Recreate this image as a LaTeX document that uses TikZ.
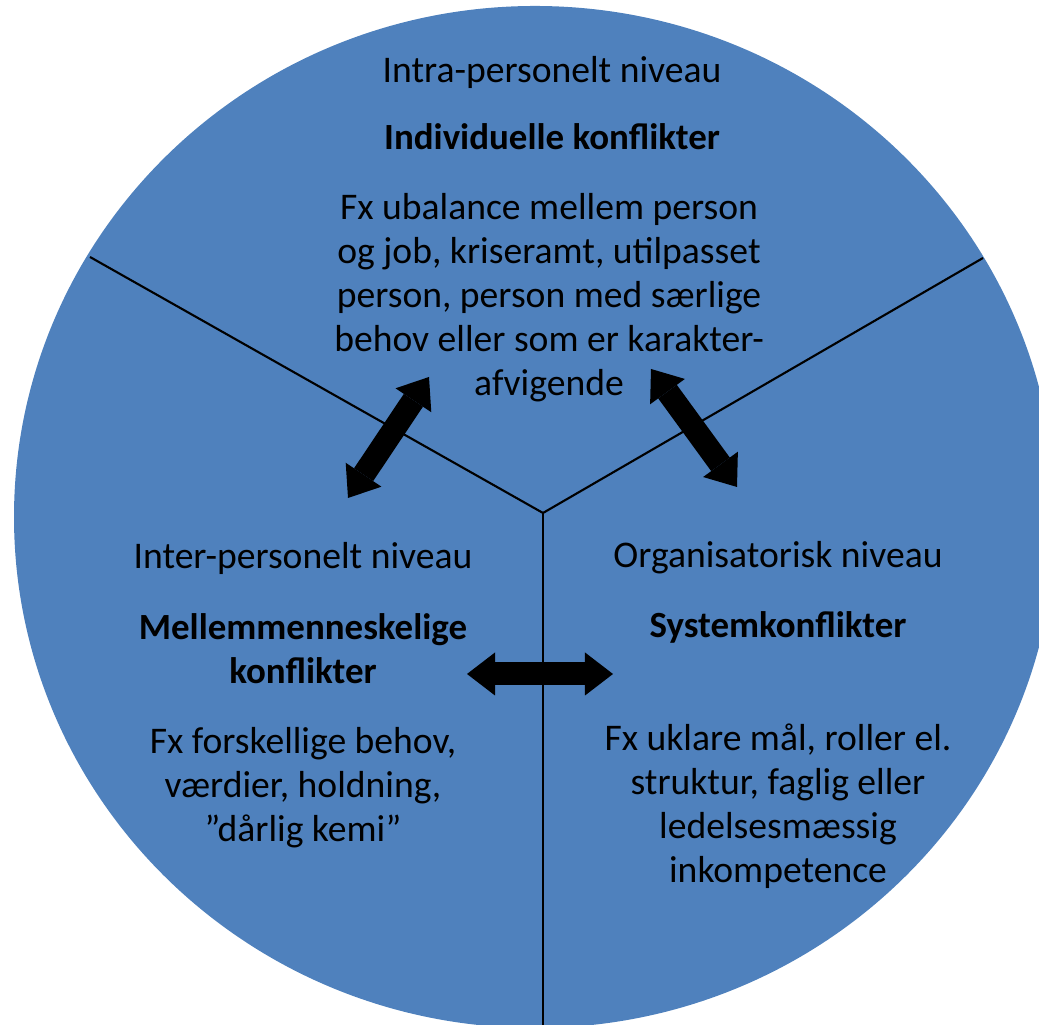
\documentclass[tikz,border=0pt]{standalone}
\usepackage{fontspec}
\setmainfont{Carlito}
\usetikzlibrary{arrows.meta}
\definecolor{pieblue}{RGB}{79,129,189}
\tikzset{
  txt/.style={align=center, inner sep=0pt, font=\fontsize{10.7}{12.5}\selectfont},
  hdr/.style={txt, font=\fontsize{10.5}{12.5}\selectfont\bfseries},
  twoway/.style={line width=0.23cm,
    {Triangle[width=0.43cm,length=0.28cm,line width=0pt]}-{Triangle[width=0.43cm,length=0.28cm,line width=0pt]}},
}

\begin{document}
\begin{tikzpicture}[x=0.01cm,y=0.01cm]
        \useasboundingbox (0,0) rectangle (1039,1025);
        \clip (0,0) rectangle (1039,1025);
        \fill[pieblue] (535,508) ellipse [x radius=521, y radius=511];

        % dividers
        \coordinate (mid) at (543,512);
        \coordinate (lt) at (90,768);
        \coordinate (rt) at (983,767);
        \coordinate (bot) at (543,-10);
        \draw[line width=0.6pt] (mid) -- (lt);
        \draw[line width=0.6pt] (mid) -- (rt);
        \draw[line width=0.6pt] (mid) -- (bot);

        % labels
        \node[txt] (intra) at (552,953) {Intra-personelt niveau};
        \node[hdr] (indiv) at (552,888) {Individuelle konflikter};
        \node[txt] (indivtxt) at (549,727) {Fx ubalance mellem person\\og job, kriseramt, utilpasset\\person, person med særlige\\behov eller som er karakter-\\afvigende};
        \node[txt] (inter) at (303,467) {Inter-personelt niveau};
        \node[hdr] (mellem) at (303,376) {Mellemmenneskelige\\konflikter};
        \node[txt] (mellemtxt) at (303,237) {Fx forskellige behov,\\værdier, holdning,\\”dårlig kemi”};
        \node[txt] (org) at (778,467) {Organisatorisk niveau};
        \node[hdr] (system) at (778,398) {Systemkonflikter};
        \node[txt] (systemtxt) at (778,219) {Fx uklare mål, roller el.\\struktur, faglig eller\\ledelsesmæssig\\inkompetence};

        %% arrows
        \coordinate (a1) at (348,527);
        \coordinate (a2) at (429,648);
        \coordinate (b1) at (651,656);
        \coordinate (b2) at (737,538);
        \coordinate (c1) at (467,351);
        \coordinate (c2) at (613,351);
        \draw[twoway] (a1) -- (a2);
        \draw[twoway] (b1) -- (b2);
        \draw[twoway] (c1) -- (c2);
\end{tikzpicture}
\end{document}
